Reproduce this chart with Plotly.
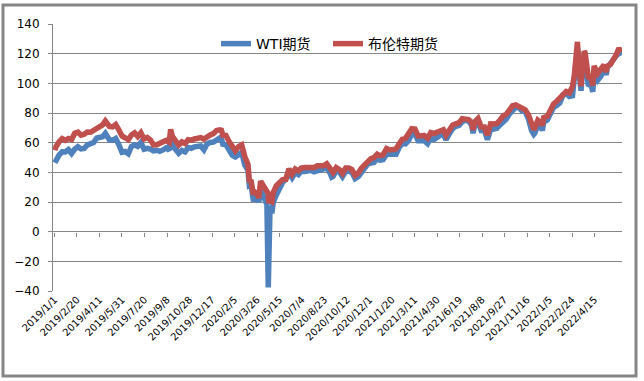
import plotly.graph_objects as go
from datetime import date, timedelta

dates = [
 "2019-01-02","2019-01-04","2019-01-11","2019-01-18","2019-01-25","2019-02-01","2019-02-08","2019-02-15",
 "2019-02-22","2019-03-01","2019-03-08","2019-03-15","2019-03-22","2019-03-29","2019-04-05","2019-04-12",
 "2019-04-18","2019-04-24","2019-05-03","2019-05-10","2019-05-17","2019-05-24","2019-05-31","2019-06-07",
 "2019-06-14","2019-06-21","2019-06-28","2019-07-05","2019-07-12","2019-07-19","2019-07-26","2019-08-02",
 "2019-08-09","2019-08-16","2019-08-23","2019-08-30","2019-09-06","2019-09-13","2019-09-16","2019-09-20",
 "2019-09-27","2019-10-04","2019-10-11","2019-10-18","2019-10-25","2019-11-01","2019-11-08","2019-11-15",
 "2019-11-22","2019-11-29","2019-12-06","2019-12-13","2019-12-20","2019-12-27",
 "2020-01-03","2020-01-07","2020-01-10","2020-01-17","2020-01-24","2020-01-31","2020-02-07","2020-02-14",
 "2020-02-21","2020-02-28","2020-03-06","2020-03-09","2020-03-13","2020-03-18","2020-03-20","2020-03-27",
 "2020-03-30","2020-04-03","2020-04-09","2020-04-17","2020-04-20","2020-04-21","2020-04-24","2020-04-28",
 "2020-05-01","2020-05-08","2020-05-15","2020-05-22","2020-05-29","2020-06-05","2020-06-12","2020-06-19",
 "2020-06-26","2020-07-02","2020-07-10","2020-07-17","2020-07-24","2020-07-31","2020-08-07","2020-08-14",
 "2020-08-21","2020-08-28","2020-09-04","2020-09-08","2020-09-11","2020-09-18","2020-09-25","2020-10-02",
 "2020-10-09","2020-10-16","2020-10-23","2020-10-30","2020-11-06","2020-11-13","2020-11-20","2020-11-27",
 "2020-12-04","2020-12-11","2020-12-18","2020-12-24","2020-12-31",
 "2021-01-08","2021-01-15","2021-01-22","2021-01-29","2021-02-05","2021-02-12","2021-02-19","2021-02-26",
 "2021-03-05","2021-03-12","2021-03-19","2021-03-26","2021-04-01","2021-04-09","2021-04-16","2021-04-23",
 "2021-04-30","2021-05-07","2021-05-14","2021-05-20","2021-05-28","2021-06-04","2021-06-11","2021-06-18",
 "2021-06-25","2021-07-02","2021-07-09","2021-07-16","2021-07-19","2021-07-23","2021-07-30","2021-08-06",
 "2021-08-13","2021-08-20","2021-08-27","2021-09-03","2021-09-10","2021-09-17","2021-09-24","2021-10-01",
 "2021-10-08","2021-10-15","2021-10-22","2021-10-29","2021-11-05","2021-11-12","2021-11-19","2021-11-26",
 "2021-12-01","2021-12-03","2021-12-10","2021-12-17","2021-12-20","2021-12-23","2021-12-31",
 "2022-01-07","2022-01-14","2022-01-21","2022-01-28","2022-02-04","2022-02-11","2022-02-18","2022-02-25",
 "2022-03-01","2022-03-04","2022-03-08","2022-03-11","2022-03-16","2022-03-18","2022-03-23","2022-03-25",
 "2022-04-01","2022-04-08","2022-04-11","2022-04-14","2022-04-22","2022-04-29","2022-05-06","2022-05-11",
 "2022-05-13","2022-05-20","2022-05-27","2022-06-03","2022-06-08","2022-06-10","2022-06-14",
]

wti = [
 46.5,48.0,51.6,53.8,53.7,55.3,52.7,55.6,
 57.3,55.8,56.1,58.5,59.0,60.1,63.1,63.9,
 64.0,66.3,61.9,61.7,62.8,58.6,53.5,54.0,
 52.5,57.4,58.5,57.5,60.2,55.6,56.2,55.7,
 54.5,54.9,54.2,55.1,56.5,54.9,62.9,58.1,
 55.9,52.8,54.7,53.8,56.7,56.2,57.2,57.7,
 57.8,55.2,59.2,60.1,60.4,61.7,
 63.1,62.7,59.0,58.5,54.2,51.6,50.3,52.1,
 53.4,44.8,41.3,31.1,31.7,20.4,22.4,21.5,
 20.1,28.3,22.8,18.3,-37.6,10.0,17.2,12.3,
 19.8,24.7,29.4,33.3,35.5,39.6,36.3,39.8,
 38.5,40.7,40.6,40.6,41.3,40.3,41.2,42.0,
 42.3,43.0,39.8,36.8,37.3,41.1,40.3,37.1,
 40.6,40.9,39.9,35.8,37.1,40.1,42.2,45.5,
 46.3,46.6,49.1,48.2,48.5,
 52.2,52.4,52.3,52.2,56.9,59.5,59.2,61.5,
 66.1,65.6,61.4,61.0,61.5,59.3,63.1,62.1,
 63.6,64.9,65.4,62.1,66.3,69.6,70.9,71.6,
 74.1,75.2,74.6,71.8,66.4,72.1,74.0,68.3,
 68.4,62.1,68.7,69.3,69.7,72.0,74.0,75.9,
 79.4,82.3,83.8,83.6,81.3,80.8,76.1,68.2,
 65.6,66.3,71.7,70.9,68.2,73.8,75.2,
 78.9,83.8,85.1,86.8,92.3,93.1,91.1,91.6,
 103.4,115.7,123.7,109.3,95.0,104.7,114.9,113.9,
 99.3,98.3,94.3,107.0,102.1,104.7,109.8,105.7,
 110.5,113.2,115.1,118.9,122.1,120.7,118.9,
]

brent = [
 54.9,57.1,60.5,62.7,61.6,62.8,62.1,66.3,
 67.1,65.1,65.7,67.2,67.0,68.4,70.3,71.6,
 72.0,74.6,70.9,70.6,72.2,68.7,64.5,63.3,
 62.0,65.2,66.6,64.2,66.7,62.5,63.5,61.9,
 58.5,58.6,59.3,60.4,61.5,60.2,69.0,64.3,
 61.9,58.4,60.5,59.4,62.0,61.7,62.5,63.3,
 63.4,62.4,64.4,65.2,66.1,68.2,
 68.6,68.3,65.0,64.9,60.7,58.2,54.5,57.3,
 58.5,50.5,45.3,34.4,33.9,24.9,27.0,24.9,
 22.8,34.1,31.5,28.1,25.6,19.3,21.4,20.5,
 26.4,31.0,32.5,35.1,35.3,42.3,38.7,42.2,
 41.0,42.8,43.2,43.1,43.3,43.3,44.4,44.8,
 44.4,45.8,42.7,39.8,39.8,43.2,41.9,39.3,
 42.9,42.9,41.8,37.9,39.5,42.8,45.0,48.2,
 49.3,50.0,52.3,51.3,51.8,
 56.0,55.1,55.4,55.9,59.3,62.4,62.9,66.1,
 69.4,69.2,64.5,64.6,64.9,63.0,66.8,66.1,
 67.3,68.3,68.7,65.1,69.6,71.9,72.7,73.5,
 76.2,76.2,75.6,73.6,68.6,74.1,76.3,70.7,
 70.6,65.2,72.7,72.6,72.9,75.3,78.1,79.3,
 82.4,84.9,85.5,84.4,82.7,82.2,78.9,72.7,
 68.9,69.9,75.2,73.5,71.5,76.9,77.8,
 81.8,86.1,87.9,90.0,93.3,94.4,93.5,97.9,
 105.0,118.1,128.0,112.7,98.0,107.9,121.6,120.7,
 104.4,102.8,98.5,111.7,106.7,109.3,112.4,107.5,
 111.6,112.6,115.6,119.7,123.6,122.0,121.2,
]

series_names = ["WTI期货", "布伦特期货"]
series_colors = ["#4F81BD", "#C0504D"]

y_ticks = [-40, -20, 0, 20, 40, 60, 80, 100, 120, 140]

# x tick labels: every 50 days from 2019/1/1
start = date(2019, 1, 1)
tick_dates = [start + timedelta(days=50 * k) for k in range(25)]
tick_vals = [d.isoformat() for d in tick_dates]
tick_text = [f"{d.year}/{d.month}/{d.day}" for d in tick_dates]

x_range = ["2018-12-28 17:00", "2022-06-15 00:00"]

fig = go.Figure()
for name, vals, col in zip(series_names, [wti, brent], series_colors):
    fig.add_trace(go.Scatter(x=dates, y=vals, mode="lines", name=name,
                             line=dict(color=col, width=5.5)))

# invisible trace to anchor the second (tick-mark) x axis on the zero line
fig.add_trace(go.Scatter(x=[dates[0]], y=[0], xaxis="x2", mode="markers",
                         marker=dict(opacity=0), showlegend=False, hoverinfo="skip"))

grid = "#868686"
fig.update_layout(
    width=644, height=381,
    margin=dict(l=53, r=22, t=24, b=90),
    paper_bgcolor="white", plot_bgcolor="white",
    font=dict(family="DejaVu Sans, Noto Sans CJK SC", color="black"),
    showlegend=True,
    legend=dict(orientation="h", x=(216 - 53) / 569, xanchor="left", y=0.925, yanchor="middle",
                font=dict(size=14, family="DejaVu Sans, Noto Sans CJK SC"),
                bgcolor="rgba(0,0,0,0)", itemwidth=30, entrywidth=67,
                entrywidthmode="pixels"),
    xaxis=dict(type="date", range=x_range, tickmode="array", tickvals=tick_vals,
               ticktext=tick_text, tickangle=-45, tickfont=dict(size=10),
               showgrid=False, showline=False, ticks="", zeroline=False,
               automargin=False),
    xaxis2=dict(type="date", range=x_range, overlaying="x", anchor="free",
                position=40 / 180, tickmode="array", tickvals=tick_vals,
                showticklabels=False, ticks="outside", ticklen=4, tickcolor=grid,
                showgrid=False, showline=False, zeroline=False),
    yaxis=dict(range=[-40, 140], tickmode="array", tickvals=y_ticks,
               tickfont=dict(size=12), showgrid=True, gridcolor=grid, gridwidth=1,
               showline=True, linecolor=grid, linewidth=1, ticks="outside",
               ticklen=4, tickcolor=grid, zeroline=True, zerolinecolor=grid,
               zerolinewidth=1, automargin=False, ticklabelstandoff=6),
    shapes=[dict(type="rect", xref="paper", yref="paper",
                 x0=(3 - 53) / 569, x1=(636 - 53) / 569,
                 y0=(291 - 376) / 267, y1=(291 - 5) / 267,
                 line=dict(color=grid, width=3), fillcolor="rgba(0,0,0,0)", layer="below")],
)

fig.write_html("out.html", config={"displayModeBar": False},
               post_script="document.body.style.margin='0';")
